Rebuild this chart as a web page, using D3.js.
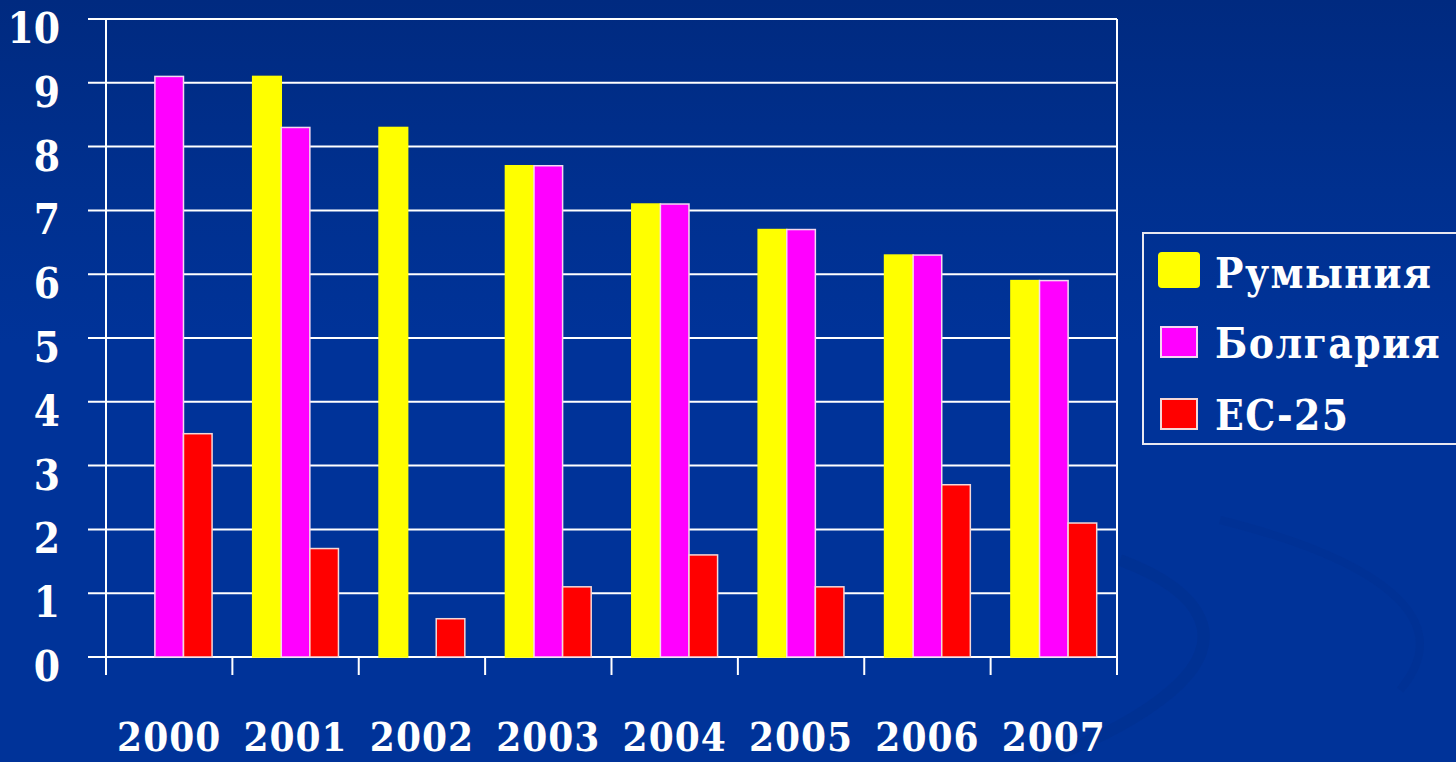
<!DOCTYPE html>
<html>
<head>
<meta charset="utf-8">
<script src="https://cdn.jsdelivr.net/npm/d3@7"></script>
<style>
  html, body { margin: 0; padding: 0; background: #003399; }
  svg { display: block; }
  text { font-family: "DejaVu Serif Condensed", "DejaVu Serif", serif; font-weight: bold; fill: #fff; }
</style>
</head>
<body>
<svg id="chart" width="1456" height="762"></svg>
<script>
// ---------- DATA ----------
const years = ["2000", "2001", "2002", "2003", "2004", "2005", "2006", "2007"];
const seriesNames = ["Румыния", "Болгария", "ЕС-25"];
const romania  = [null, 9.1, 8.3, 7.7, 7.1, 6.7, 6.3, 5.9];
const bulgaria = [9.1, 8.3, null, 7.7, 7.1, 6.7, 6.3, 5.9];
const eu25     = [3.5, 1.7, 0.6, 1.1, 1.6, 1.1, 2.7, 2.1];
const yTicks = [0, 1, 2, 3, 4, 5, 6, 7, 8, 9, 10];

const colors = ["#ffff00", "#ff00ff", "#ff0000"];
const strokes = ["#ffff00", "#f4d8f0", "#f4d8d8"];

const svg = d3.select("#chart");
const width = +svg.attr("width");
const height = +svg.attr("height");

// ---------- BACKGROUND ----------
const defs = svg.append("defs");
const bg = defs.append("linearGradient")
  .attr("id", "bg").attr("x1", 0).attr("y1", 0).attr("x2", 0).attr("y2", 1);
bg.append("stop").attr("offset", "0%").attr("stop-color", "#002a80");
bg.append("stop").attr("offset", "25%").attr("stop-color", "#00308f");
bg.append("stop").attr("offset", "45%").attr("stop-color", "#003399");
bg.append("stop").attr("offset", "100%").attr("stop-color", "#003399");
svg.append("rect").attr("width", width).attr("height", height).attr("fill", "url(#bg)");

// faint swirls on the right
svg.append("path")
  .attr("d", "M1120,560 C1200,590 1240,640 1160,700 C1120,730 1080,745 1040,762")
  .attr("fill", "none").attr("stroke", "#002f8e").attr("stroke-width", 12).attr("opacity", 0.5);
svg.append("path")
  .attr("d", "M1220,520 C1380,560 1460,620 1400,690")
  .attr("fill", "none").attr("stroke", "#002f8e").attr("stroke-width", 8).attr("opacity", 0.4);

// ---------- SCALES ----------
const plot = { left: 106, right: 1117, top: 19, bottom: 657 };

const x = d3.scaleBand()
  .domain(years)
  .range([plot.left, plot.right]);

const xInner = d3.scaleBand()
  .domain(seriesNames)
  .range([0, x.bandwidth()])
  .paddingOuter(0.71);

const y = d3.scaleLinear()
  .domain([0, 10])
  .range([plot.bottom, plot.top]);

// ---------- GRID ----------
svg.append("g")
  .selectAll("line")
  .data(yTicks)
  .join("line")
  .attr("x1", 88)
  .attr("x2", plot.right)
  .attr("y1", d => y(d))
  .attr("y2", d => y(d))
  .attr("stroke", "#fff")
  .attr("stroke-width", 2);

// y labels
svg.append("g")
  .selectAll("text")
  .data(yTicks)
  .join("text")
  .attr("x", 60)
  .attr("y", d => y(d) + 24)
  .attr("text-anchor", "end")
  .style("font-size", "42px")
  .text(d => d);

// ---------- BARS ----------
const rows = years.map((yr, i) => ({
  year: yr,
  values: [romania[i], bulgaria[i], eu25[i]]
}));

const groups = svg.append("g")
  .selectAll("g")
  .data(rows)
  .join("g")
  .attr("transform", d => `translate(${x(d.year)},0)`);

groups.selectAll("rect")
  .data(d => d.values.map((v, j) => ({ name: seriesNames[j], value: v, j })).filter(e => e.value != null))
  .join("rect")
  .attr("x", d => xInner(d.name))
  .attr("y", d => y(d.value))
  .attr("width", xInner.bandwidth())
  .attr("height", d => y(0) - y(d.value))
  .attr("fill", d => colors[d.j])
  .attr("stroke", d => strokes[d.j])
  .attr("stroke-width", 1.5);

// ---------- FRAME + X TICKS ----------
svg.append("line")
  .attr("x1", plot.left).attr("x2", plot.left)
  .attr("y1", plot.top).attr("y2", 675)
  .attr("stroke", "#fff").attr("stroke-width", 2);
svg.append("line")
  .attr("x1", plot.right).attr("x2", plot.right)
  .attr("y1", plot.top).attr("y2", 675)
  .attr("stroke", "#fff").attr("stroke-width", 2);

svg.append("g")
  .selectAll("line")
  .data(years.slice(1))
  .join("line")
  .attr("x1", d => x(d))
  .attr("x2", d => x(d))
  .attr("y1", plot.bottom)
  .attr("y2", 675)
  .attr("stroke", "#fff")
  .attr("stroke-width", 2);

// x labels
svg.append("g")
  .selectAll("text")
  .data(years)
  .join("text")
  .attr("x", d => x(d) + x.bandwidth() / 2)
  .attr("y", 751)
  .attr("text-anchor", "middle")
  .style("font-size", "40px")
  .style("letter-spacing", "1px")
  .text(d => d);

// ---------- LEGEND ----------
const legend = svg.append("g");
legend.append("rect")
  .attr("x", 1143).attr("y", 233)
  .attr("width", 330).attr("height", 211)
  .attr("fill", "none")
  .attr("stroke", "#e8e8f0")
  .attr("stroke-width", 2);

const legendRows = [288, 358, 430];
seriesNames.forEach((name, i) => {
  legend.append("rect")
    .attr("x", i === 0 ? 1159 : 1161)
    .attr("y", legendRows[i] - (i === 0 ? 35 : 31))
    .attr("width", i === 0 ? 40 : 36)
    .attr("height", i === 0 ? 34 : 30)
    .attr("rx", i === 0 ? 3 : 0)
    .attr("fill", colors[i])
    .attr("stroke", strokes[i])
    .attr("stroke-width", 2);
  legend.append("text")
    .attr("x", 1215)
    .attr("y", legendRows[i])
    .style("font-size", "42px")
    .style("letter-spacing", "1.5px")
    .text(name);
});
</script>
</body>
</html>
